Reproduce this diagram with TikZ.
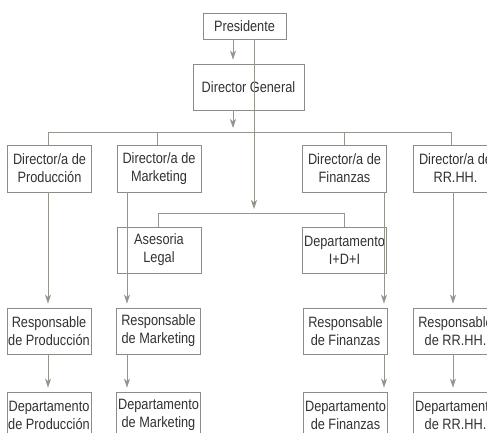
\documentclass[tikz,border=0pt]{standalone}
\usepackage{fontspec}
\setmainfont{Liberation Sans}[FakeStretch=0.85]
\usetikzlibrary{arrows.meta}
\definecolor{linegray}{RGB}{150,148,140}
\definecolor{boxgray}{RGB}{140,140,135}
\definecolor{textgray}{RGB}{50,50,50}
\begin{document}
\begin{tikzpicture}[x=1pt,y=-1pt,
  box/.style={draw=boxgray, line width=0.8pt, inner sep=0pt, align=center,
    minimum width=84pt, minimum height=46pt, text=textgray,
    font=\fontsize{15}{18}\selectfont},
  conn/.style={draw=linegray, line width=0.8pt},
  arr/.style={conn, -{Stealth[length=9pt,width=6pt,inset=2.5pt]}, shorten >=4pt}]
\useasboundingbox (0,0) rectangle (487,432);
\clip (0,0) rectangle (487,432);

% top levels
\node[box, minimum width=83pt, minimum height=26pt] (pres) at (244.5,26) {Presidente};
\node[box, minimum width=111pt] (dg) at (248.5,87) {Director General};

% directors
\node[box, minimum height=47pt] (dprod) at (49.5,168.5) {Director/a de\\Producción};
\node[box, minimum height=47pt] (dmkt)  at (159,168.5)  {Director/a de\\Marketing};
\node[box, minimum height=47pt] (dfin)  at (344.5,168.5) {Director/a de\\Finanzas};
\node[box, minimum height=47pt, minimum width=85pt] (drrhh) at (455.5,168.5) {Director/a de\\RR.HH.};

% staff units
\node[box] (ases) at (159,250) {Asesoria\\Legal};
\node[box] (idi)  at (344.5,250) {Departamento\\I+D+I};

% managers
\node[box] (rprod) at (49,331)    {Responsable\\de Producción};
\node[box] (rmkt)  at (158.5,331) {Responsable\\de Marketing};
\node[box] (rfin)  at (345.5,331) {Responsable\\de Finanzas};
\node[box, minimum width=85pt] (rrrhh) at (455.5,331) {Responsable\\de RR.HH.};

% departments
\node[box] (pprod) at (49,415)    {Departamento\\de Producción};
\node[box] (pmkt)  at (158.5,415) {Departamento\\de Marketing};
\node[box] (pfin)  at (345.5,415) {Departamento\\de Finanzas};
\node[box, minimum width=85pt] (prrhh) at (455.5,415) {Departamento\\de RR.HH.};

% helper coordinates for buses and vertical lines
\coordinate (bus1) at (0,132);
\coordinate (bus2) at (0,213);
\coordinate (ax) at (233,0);
\coordinate (lx) at (254,0);
\coordinate (px) at (48,0);
\coordinate (mx) at (127,0);
\coordinate (fx) at (384,0);
\coordinate (hx) at (453,0);

% president to general director
\draw[arr] (pres.south -| ax) -- (dg.north -| ax);
\draw[arr] (dg.south -| ax) -- (bus1 -| ax);

% bus to directors
\draw[conn] (dprod.north -| px) -- (bus1 -| px) -- (bus1 -| 451,0) -- (drrhh.north -| 451,0);
\draw[conn] (dmkt.north -| 157,0) -- (bus1 -| 157,0);
\draw[conn] (dfin.north) -- (dfin.north |- bus1);

% staff line from the president
\draw[arr] (pres.south -| lx) -- (bus2 -| lx);
\draw[conn] (ases.north -| 158,0) |- (idi.north |- bus2) -- (idi.north);

% directors to managers
\draw[arr] (dprod.south -| px) -- (rprod.north -| px);
\draw[arr] (dmkt.south -| mx)  -- (rmkt.north -| mx);
\draw[arr] (dfin.south -| fx)  -- (rfin.north -| fx);
\draw[arr] (drrhh.south -| hx) -- (rrrhh.north -| hx);

% managers to departments
\draw[arr] (rprod.south -| px) -- (pprod.north -| px);
\draw[arr] (rmkt.south -| mx)  -- (pmkt.north -| mx);
\draw[arr] (rfin.south -| fx)  -- (pfin.north -| fx);
\draw[arr] (rrrhh.south -| hx) -- (prrhh.north -| hx);
\end{tikzpicture}
\end{document}
